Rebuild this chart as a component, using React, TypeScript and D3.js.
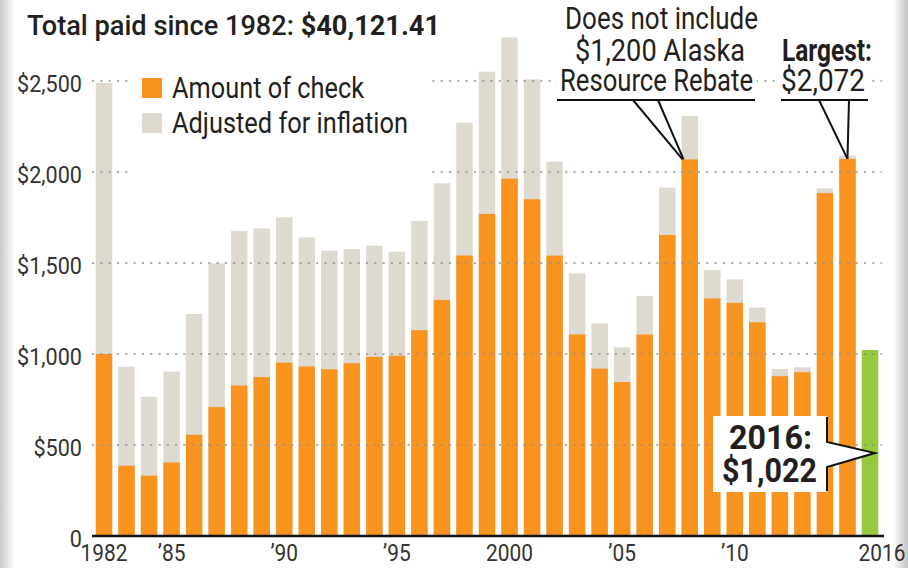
import React from "react";
import * as d3 from "d3";

const years = d3.range(1982, 2017);
const amountOfCheck = [1000, 386.15, 331.29, 404, 556.26, 708.19, 826.93, 873.16, 952.63, 931.34, 915.84, 949.46, 983.9, 990.3, 1130.68, 1296.54, 1540.88, 1769.84, 1963.86, 1850.28, 1540.76, 1107.56, 919.84, 845.76, 1106.96, 1654, 2069, 1305, 1281, 1174, 878, 900, 1884, 2072, 1022];
const adjustedForInflation = [2490, 930, 765, 903, 1220, 1498, 1677, 1690, 1751, 1641, 1568, 1577, 1595, 1562, 1731, 1938, 2271, 2551, 2740, 2509, 2057, 1443, 1169, 1037, 1319, 1914, 2308, 1462, 1410, 1255, 918, 927, 1910, 2090, 1022];
const yTicks = [0, 500, 1000, 1500, 2000, 2500];
const yTickLabels = ["0", "$500", "$1,000", "$1,500", "$2,000", "$2,500"];
const xTickYears = [1982, 1985, 1990, 1995, 2000, 2005, 2010, 2016];
const xTickLabels = ["1982", "\u201985", "\u201990", "\u201995", "2000", "\u201905", "\u201910", "2016"];

const W = 908, H = 568;
const ORANGE = "#F7931E";
const GREY = "#DEDACF";
const GREEN = "#96C93D";
const INK = "#231F20";
const FONT = "Roboto, 'Noto Sans', sans-serif";

export default function App() {
  const x = d3.scaleBand<number>().domain(years).range([89.7, 884.3]).paddingInner(0.27).paddingOuter(0.27);
  const y = d3.scaleLinear().domain([0, 2500]).range([536, 81]);
  const bw = x.bandwidth();
  const line = d3.line();

  const b2008 = x(2008)! + 1;
  const t2008 = y(amountOfCheck[years.indexOf(2008)]);
  const b2015 = x(2015)! + bw / 2;
  const t2015 = y(amountOfCheck[years.indexOf(2015)]);

  return (
    <svg width={W} height={H} style={{ position: "absolute", left: 0, top: 0, background: "#fff" }} fontFamily={FONT}>
      <defs>
        <linearGradient id="lg" x1="0" x2="1" y1="0" y2="0">
          <stop offset="0" stopColor="#c9c9c9" />
          <stop offset="1" stopColor="#ffffff" />
        </linearGradient>
        <linearGradient id="rg" x1="0" x2="1" y1="0" y2="0">
          <stop offset="0" stopColor="#ffffff" />
          <stop offset="1" stopColor="#c4c4c4" />
        </linearGradient>
      </defs>
      <rect x={0} y={0} width={W} height={H} fill="#fff" />
      <rect x={0} y={0} width={15} height={H} fill="url(#lg)" />
      <rect x={893} y={0} width={15} height={H} fill="url(#rg)" />

      {/* bars */}
      {years.map((yr, i) => (
        <g key={yr}>
          <rect x={x(yr)} y={y(adjustedForInflation[i])} width={bw} height={y(0) - y(adjustedForInflation[i])} fill={GREY} />
          <rect x={x(yr)} y={y(amountOfCheck[i])} width={bw} height={y(0) - y(amountOfCheck[i])} fill={yr === 2016 ? GREEN : ORANGE} />
        </g>
      ))}

      {/* gridlines */}
      {yTicks.filter((t) => t > 0).map((t) => (
        <line key={t} x1={92} x2={882} y1={y(t)} y2={y(t)} stroke="#8f8f8f" strokeOpacity={0.7} strokeWidth={2} strokeDasharray="2.2 6.1" />
      ))}

      {/* white backgrounds behind legend and annotations */}
      <rect x={132} y={60} width={299} height={122} fill="#fff" />
      <rect x={557} y={0} width={200} height={98} fill="#fff" />
      <rect x={779} y={30} width={91} height={68} fill="#fff" />

      {/* title */}
      <text x={27} y={35} fontSize={28} fill={INK} fontWeight={500} textLength={413} lengthAdjust="spacingAndGlyphs">
        Total paid since 1982: <tspan fontWeight={700}>$40,121.41</tspan>
      </text>

      {/* legend */}
      <rect x={142} y={78} width={20} height={20} fill={ORANGE} />
      <rect x={142} y={113} width={20} height={20} fill={GREY} />
      <text x={172} y={98} fontSize={29} fill={INK} textLength={192} lengthAdjust="spacingAndGlyphs">Amount of check</text>
      <text x={172} y={133} fontSize={29} fill={INK} textLength={236} lengthAdjust="spacingAndGlyphs">Adjusted for inflation</text>

      {/* y axis labels */}
      {yTicks.map((t, i) => (
        <g key={t} transform={`translate(82,${y(t) + 11}) scale(0.94,1)`}>
          <text x={0} y={0} fontSize={23} fill="#333" textAnchor="end">{yTickLabels[i]}</text>
        </g>
      ))}

      {/* x axis */}
      <line x1={92} x2={884} y1={y(0)} y2={y(0)} stroke="#111" strokeWidth={2.5} />
      {xTickYears.map((yr, i) => (
        <g key={yr} transform={`translate(${x(yr)! + bw / 2 + (yr === 2016 ? 12 : 0)},561) scale(0.87,1)`}>
          <text x={0} y={0} fontSize={24} fill="#333" textAnchor="middle">{xTickLabels[i]}</text>
        </g>
      ))}

      {/* annotation: 2008 */}
      <text x={565} y={29} fontSize={31} fill={INK} textLength={193} lengthAdjust="spacingAndGlyphs">Does not include</text>
      <text x={575} y={61} fontSize={31} fill={INK} textLength={170} lengthAdjust="spacingAndGlyphs">$1,200 Alaska</text>
      <text x={560} y={91} fontSize={31} fill={INK} textLength={193} lengthAdjust="spacingAndGlyphs">Resource Rebate</text>
      <path d={line([[557, 100], [755, 100]])!} stroke="#111" strokeWidth={2} fill="none" />
      <path d={line([[633, 100], [b2008, t2008]])!} stroke="#111" strokeWidth={2} fill="none" />
      <path d={line([[658, 100], [b2008 + 1, t2008]])!} stroke="#111" strokeWidth={2} fill="none" />

      {/* annotation: largest */}
      <text x={782} y={61} fontSize={31} fill={INK} fontWeight={700} textLength={90} lengthAdjust="spacingAndGlyphs">Largest:</text>
      <text x={781} y={91} fontSize={31} fill={INK} textLength={84} lengthAdjust="spacingAndGlyphs">$2,072</text>
      <path d={line([[781, 100], [868, 100]])!} stroke="#111" strokeWidth={2} fill="none" />
      <path d={line([[819, 100], [b2015, t2015]])!} stroke="#111" strokeWidth={2} fill="none" />
      <path d={line([[849, 100], [b2015, t2015]])!} stroke="#111" strokeWidth={2} fill="none" />

      {/* annotation: 2016 */}
      <path d="M713,416 H827 V442 L875,453 L827,467 V492 H713 Z" fill="#fff" />
      <path d="M827,417 V442 L875,453 L827,467 V491" fill="none" stroke="#111" strokeWidth={2} />
      <text x={729} y={449} fontSize={33} fontWeight={700} fill={INK} textLength={83} lengthAdjust="spacingAndGlyphs">2016:</text>
      <text x={722} y={482} fontSize={33} fontWeight={700} fill={INK} textLength={95} lengthAdjust="spacingAndGlyphs">$1,022</text>
    </svg>
  );
}
